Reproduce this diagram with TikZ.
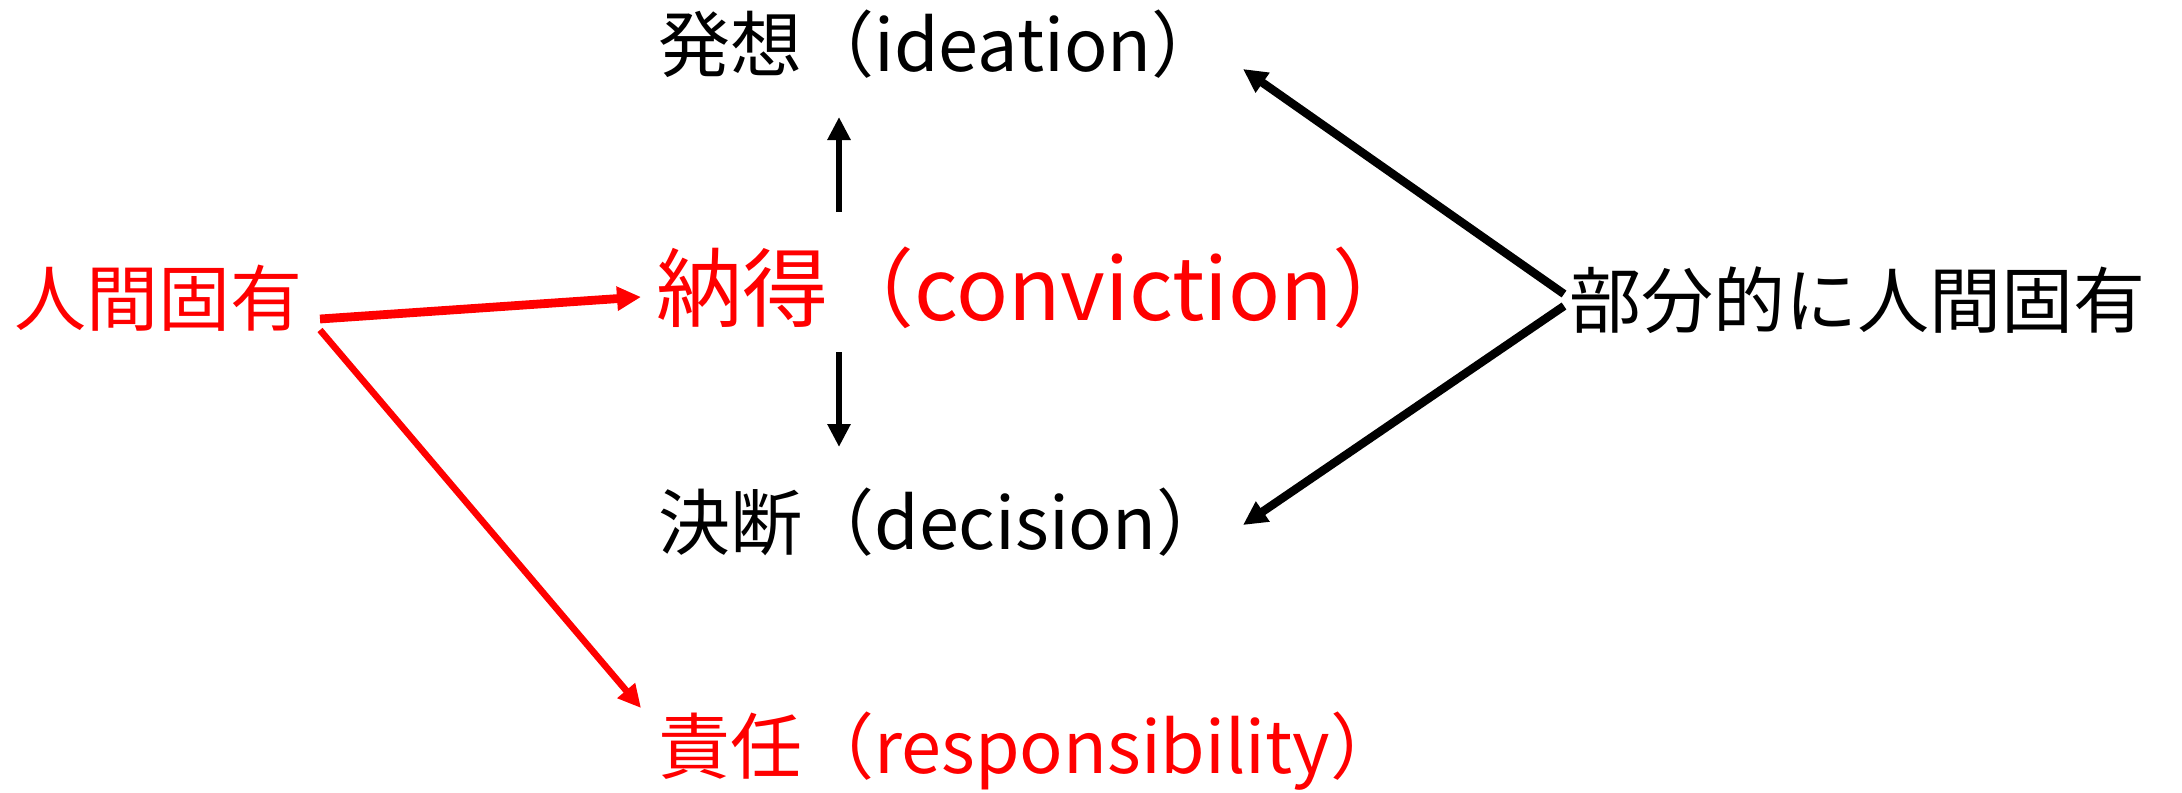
\documentclass[tikz,border=0pt]{standalone}
\usepackage{fontspec}
\setmainfont{Noto Sans CJK JP}
\usetikzlibrary{arrows.meta}
\definecolor{myred}{RGB}{255,0,0}
\tikzset{
  lbl/.style={anchor=west, inner sep=0pt, font=\fontsize{36}{40}\selectfont},
  biglbl/.style={anchor=west, inner sep=0pt, font=\fontsize{43}{48}\selectfont},
  arr/.style={-{Triangle[length=11.5pt,width=11pt]}, line width=3.3pt},
  darr/.style={-{Triangle[length=12pt,width=11.5pt]}, line width=4.2pt},
}
\begin{document}
\begin{tikzpicture}[x=0.5pt,y=-0.5pt]
\useasboundingbox (0,0) rectangle (2182,792);
\node[lbl] (idea) at (658,44) {発想（ideation）};
\node[biglbl, text=myred] (conv) at (656,288) {納得（conviction）};
\node[lbl] (deci) at (658,522) {決断（decision）};
\node[lbl, text=myred] (resp) at (658,751) {責任（responsibility）};
\node[lbl, text=myred] (jin) at (14,298) {人間固有};
\node[lbl] (part) at (1569,300) {部分的に人間固有};
% arrow end points
\coordinate (upS) at (839,212);
\coordinate (upE) at (839,117);
\coordinate (dnS) at (839,352);
\coordinate (dnE) at (839,447);
\coordinate (r1S) at (320,319);
\coordinate (r1E) at (641,297);
\coordinate (r2S) at (320,330);
\coordinate (r2E) at (641,708);
\coordinate (b1S) at (1564,294);
\coordinate (b1E) at (1243,69);
\coordinate (b2S) at (1564,306);
\coordinate (b2E) at (1243,525);
\draw[arr] (upS) -- (upE);
\draw[arr] (dnS) -- (dnE);
\draw[darr, myred, line width=4.4pt] (r1S) -- (r1E);
\draw[arr, myred] (r2S) -- (r2E);
\draw[darr] (b1S) -- (b1E);
\draw[darr] (b2S) -- (b2E);
\end{tikzpicture}
\end{document}
